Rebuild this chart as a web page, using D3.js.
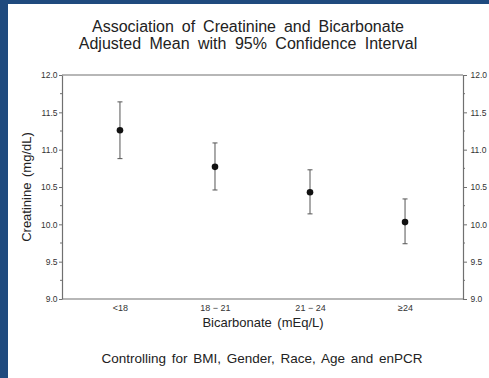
<!DOCTYPE html>
<html>
<head>
<meta charset="utf-8">
<script src="https://cdn.jsdelivr.net/npm/d3@7"></script>
<style>
  html, body { margin: 0; padding: 0; background: #1f4a7e; }
  svg { display: block; font-family: "Liberation Sans", Arial, sans-serif; }
</style>
</head>
<body>
<svg id="chart" width="489" height="378"></svg>
<script>
// chart data
var categories = ["<18", "18 \u2212 21", "21 \u2212 24", "\u226524"];
var means = [11.26, 10.77, 10.43, 10.03];
var upperCI = [11.64, 11.09, 10.73, 10.34];
var lowerCI = [10.88, 10.46, 10.14, 9.74];
var yTicks = [9.0, 9.5, 10.0, 10.5, 11.0, 11.5, 12.0];
var yMinorTicks = [9.25, 9.75, 10.25, 10.75, 11.25, 11.75];

(function() {
var svg = d3.select('#chart');

// white page
svg.append("rect")
    .attr("x", 8).attr("y", 4)
    .attr("width", 481).attr("height", 374)
    .attr("fill", "white");

var plotLeft = 62, plotRight = 463, plotTop = 75, plotBottom = 299;
var axisColor = "#707070";

var x = d3.scalePoint()
    .domain(categories)
    .range([plotLeft, plotRight])
    .padding(0.61);

var y = d3.scaleLinear()
    .domain([9, 12])
    .range([plotBottom, plotTop]);

// frame: top and bottom lines
svg.append("line")
    .attr("x1", plotLeft).attr("x2", plotRight)
    .attr("y1", plotTop).attr("y2", plotTop)
    .attr("stroke", axisColor).attr("stroke-width", 1.2);
svg.append("line")
    .attr("x1", plotLeft).attr("x2", plotRight)
    .attr("y1", plotBottom).attr("y2", plotBottom)
    .attr("stroke", axisColor).attr("stroke-width", 1.2);

// left axis
var yLeft = svg.append("g")
    .attr("transform", "translate(" + plotLeft + ",0)")
    .call(d3.axisLeft(y).tickValues(yTicks).tickFormat(d3.format(".1f")).tickSize(3).tickPadding(1.5).tickSizeOuter(0));
yLeft.append("g").selectAll("line")
    .data(yMinorTicks).enter().append("line")
    .attr("x1", 0).attr("x2", -2)
    .attr("y1", function(d) { return y(d); })
    .attr("y2", function(d) { return y(d); });

// right axis
var yRight = svg.append("g")
    .attr("transform", "translate(" + plotRight + ",0)")
    .call(d3.axisRight(y).tickValues(yTicks).tickFormat(d3.format(".1f")).tickSize(4).tickPadding(3.5).tickSizeOuter(0));
yRight.append("g").selectAll("line")
    .data(yMinorTicks).enter().append("line")
    .attr("x1", 0).attr("x2", 2)
    .attr("y1", function(d) { return y(d); })
    .attr("y2", function(d) { return y(d); });

// x axis labels only
var xAxis = svg.append("g")
    .attr("transform", "translate(0," + plotBottom + ")")
    .call(d3.axisBottom(x).tickSize(0).tickPadding(6));
xAxis.select(".domain").remove();

svg.selectAll(".tick text")
    .attr("font-size", 8.5)
    .attr("font-family", "Liberation Sans, Arial, sans-serif")
    .attr("fill", "#333");
xAxis.selectAll(".tick text").attr("font-size", 9);
svg.selectAll(".domain, .tick line, g line")
    .attr("stroke", axisColor);
yLeft.select(".domain").attr("stroke-width", 1.2);
yRight.select(".domain").attr("stroke-width", 1.2);

// error bars
var bars = svg.append("g");
categories.forEach(function(c, i) {
    var cx = x(c);
    bars.append("line")
        .attr("x1", cx).attr("x2", cx)
        .attr("y1", y(upperCI[i])).attr("y2", y(lowerCI[i]))
        .attr("stroke", "#555").attr("stroke-width", 1);
    [upperCI[i], lowerCI[i]].forEach(function(v) {
        bars.append("line")
            .attr("x1", cx - 2.5).attr("x2", cx + 2.5)
            .attr("y1", y(v)).attr("y2", y(v))
            .attr("stroke", "#555").attr("stroke-width", 1);
    });
});

// means
svg.append("g").selectAll("circle")
    .data(means).enter().append("circle")
    .attr("cx", function(d, i) { return x(categories[i]); })
    .attr("cy", function(d) { return y(d); })
    .attr("r", 3.3)
    .attr("fill", "#111");

// titles
svg.append("text")
    .attr("x", 248).attr("y", 32)
    .attr("text-anchor", "middle")
    .attr("font-size", 16).attr("word-spacing", 3.5).attr("fill", "#222")
    .text("Association of Creatinine and Bicarbonate");
svg.append("text")
    .attr("x", 248).attr("y", 49)
    .attr("text-anchor", "middle")
    .attr("font-size", 16).attr("word-spacing", 4).attr("fill", "#222")
    .text("Adjusted Mean with 95% Confidence Interval");

svg.append("text")
    .attr("transform", "translate(31,187) rotate(-90)")
    .attr("text-anchor", "middle")
    .attr("font-size", 13).attr("word-spacing", 2).attr("fill", "#222")
    .text("Creatinine (mg/dL)");

svg.append("text")
    .attr("x", 263).attr("y", 327)
    .attr("text-anchor", "middle")
    .attr("font-size", 13).attr("word-spacing", 2).attr("fill", "#222")
    .text("Bicarbonate (mEq/L)");

svg.append("text")
    .attr("x", 262).attr("y", 363)
    .attr("text-anchor", "middle")
    .attr("font-size", 13.5).attr("word-spacing", 2).attr("fill", "#222")
    .text("Controlling for BMI, Gender, Race, Age and enPCR");
})();
</script>
</body>
</html>
